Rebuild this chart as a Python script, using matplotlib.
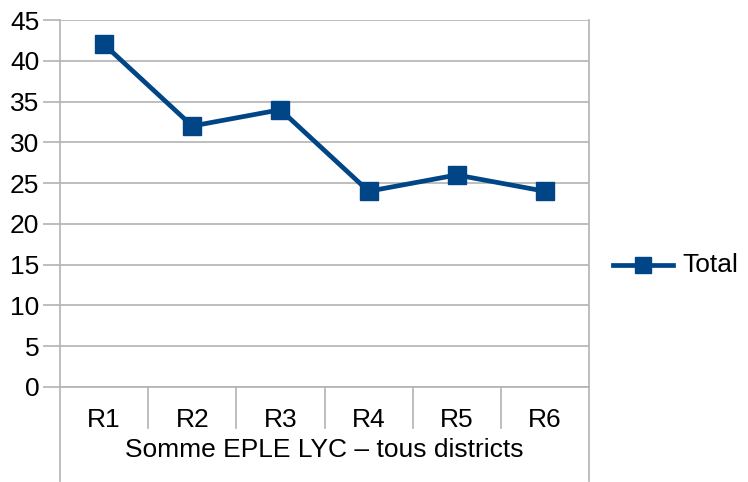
import matplotlib
matplotlib.use("Agg")
import matplotlib.pyplot as plt
from matplotlib.lines import Line2D

# data
categories = ["R1", "R2", "R3", "R4", "R5", "R6"]
total = [42, 32, 34, 24, 26, 24]
group_label = "Somme EPLE LYC \u2013 tous districts"
yticks = list(range(0, 50, 5))

plt.rcParams['font.family'] = ['Liberation Sans', 'DejaVu Sans']
FS = 19

W, H = 748, 482
fig = plt.figure(figsize=(W / 100, H / 100), dpi=100)
x0, x1, y_top, y_bot = 60, 589, 20, 387
ax = fig.add_axes([x0 / W, 1 - y_bot / H, (x1 - x0) / W, (y_bot - y_top) / H])

grid_c = "#b3b3b3"
blue = "#004586"
n = len(categories)
xs = [i + 0.5 for i in range(n)]

ax.plot(xs, total, color=blue, lw=3.4, marker="s", ms=13, zorder=3,
        solid_joinstyle="miter", label="Total")

ax.set_xlim(0, n)
ax.set_ylim(0, 45)
ax.set_yticks(yticks)
ax.set_yticklabels([str(v) for v in yticks], fontsize=FS)
ax.yaxis.grid(True, color=grid_c, lw=1.2)
ax.set_axisbelow(True)
ax.tick_params(axis="y", length=12, width=1.2, color=grid_c, pad=3)
ax.set_xticks([])
for s in ["top", "right"]:
    ax.spines[s].set_visible(False)
ax.spines["left"].set_color(grid_c)
ax.spines["left"].set_linewidth(1.2)
ax.spines["bottom"].set_color(grid_c)
ax.spines["bottom"].set_linewidth(1.2)

# category row below the axis
def fy(py):
    return 1 - py / H

def fx(px):
    return px / W

pw = (x1 - x0) / n
for i in range(1, n):
    px = x0 + i * pw
    fig.add_artist(Line2D([fx(px), fx(px)], [fy(y_bot), fy(428)], color=grid_c, lw=1.2))
for px in (x0, x1):
    fig.add_artist(Line2D([fx(px), fx(px)], [fy(y_top if px == x1 else y_bot), fy(481)],
                          color=grid_c, lw=1.2))
for i, c in enumerate(categories):
    fig.text(fx(x0 + (i + 0.5) * pw), fy(420), c, ha="center", va="center", fontsize=FS)
fig.text(fx((x0 + x1) / 2), fy(450), group_label, ha="center", va="center", fontsize=FS)

# legend
ly = fy(265)
fig.add_artist(Line2D([fx(613), fx(673)], [ly, ly], color=blue, lw=3.4))
fig.add_artist(Line2D([fx(643)], [ly], color=blue, marker="s", ms=12, lw=0))
fig.text(fx(682), ly, "Total", ha="left", va="center", fontsize=FS)

fig.savefig("out.png", dpi=100)
